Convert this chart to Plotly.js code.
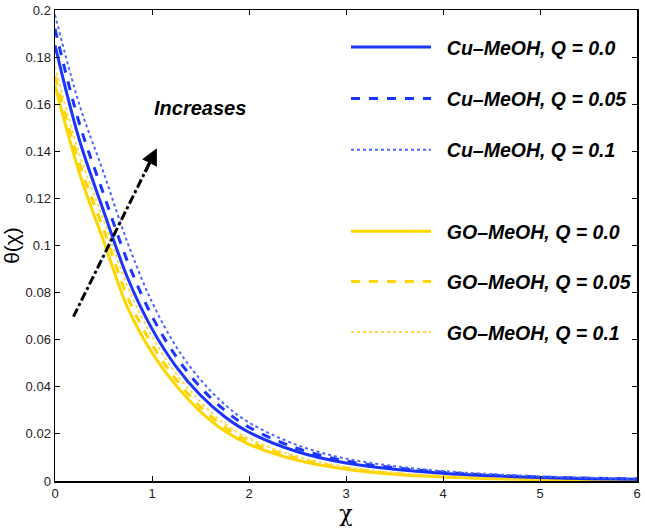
<!DOCTYPE html>
<html>
<head>
<meta charset="utf-8">
<script src="https://cdn.plot.ly/plotly-3.0.1.min.js"></script>
<style>html,body{margin:0;padding:0;background:#fff;}#chart{width:645px;height:528px;}</style>
</head>
<body>
<div id="chart"></div>
<script>
const chi = [0, 0.25, 0.5, 0.75, 1, 1.25, 1.5, 1.75, 2, 2.5, 3, 3.5, 4, 4.5, 5, 5.5, 6];
const cuQ0   = [0.185, 0.145, 0.1148, 0.0861, 0.0646, 0.0485, 0.0364, 0.0273, 0.0207, 0.0124, 0.0076, 0.0050, 0.0033, 0.0022, 0.0015, 0.0010, 0.0007];
const cuQ005 = [0.192, 0.152, 0.122, 0.093, 0.070, 0.0528, 0.0398, 0.030, 0.0228, 0.0138, 0.0085, 0.0056, 0.0037, 0.0025, 0.0017, 0.0012, 0.0009];
const cuQ01  = [0.198, 0.160, 0.131, 0.101, 0.076, 0.057, 0.0430, 0.0325, 0.0248, 0.0152, 0.0095, 0.0063, 0.0042, 0.0029, 0.0020, 0.0014, 0.0010];
const goQ0   = [0.168, 0.131, 0.102, 0.0735, 0.0545, 0.0405, 0.0295, 0.0212, 0.0156, 0.0088, 0.0050, 0.0029, 0.0017, 0.0010, 0.0006, 0.0004, 0.0003];
const goQ005 = [0.172, 0.135, 0.107, 0.078, 0.058, 0.043, 0.0315, 0.0228, 0.0168, 0.0096, 0.0055, 0.0032, 0.0019, 0.0011, 0.0007, 0.0005, 0.0003];
const goQ01  = [0.176, 0.139, 0.111, 0.0825, 0.0615, 0.0455, 0.0335, 0.0243, 0.0180, 0.0104, 0.0060, 0.0035, 0.0021, 0.0012, 0.0008, 0.0005, 0.0003];
const seriesNames = ["Cu\u2013MeOH, Q = 0.0", "Cu\u2013MeOH, Q = 0.05", "Cu\u2013MeOH, Q = 0.1",
                     "GO\u2013MeOH, Q = 0.0", "GO\u2013MeOH, Q = 0.05", "GO\u2013MeOH, Q = 0.1"];
const xTicks = [0, 1, 2, 3, 4, 5, 6];
const yTicks = [0, 0.02, 0.04, 0.06, 0.08, 0.1, 0.12, 0.14, 0.16, 0.18, 0.2];
const yTickText = ["0", "0.02", "0.04", "0.06", "0.08", "0.1", "0.12", "0.14", "0.16", "0.18", "0.2"];
const arrowX = [0.19, 1.05];
const arrowY = [0.0698, 0.1413];
const annoText = "Increases";
const annoPos = [1.0, 0.1584];

const BLUE = "#1a35ff", BLUE_L = "#4a66ff", GOLD = "#ffd500", GOLD_L = "#ffd84a";
const styles = [
  {color: BLUE, dash: "solid", width: 3, legend: "legend"},
  {color: BLUE, dash: "dash", width: 3, legend: "legend"},
  {color: BLUE_L, dash: "dot", width: 2, legend: "legend"},
  {color: GOLD, dash: "solid", width: 3, legend: "legend2"},
  {color: GOLD, dash: "dash", width: 3, legend: "legend2"},
  {color: GOLD_L, dash: "dot", width: 2, legend: "legend2"}
];
const ys = [cuQ0, cuQ005, cuQ01, goQ0, goQ005, goQ01];
const order = [3, 4, 5, 0, 1, 2];
const traces = order.map(i => ({
  x: chi, y: ys[i], type: "scatter", mode: "lines", name: "\u00a0\u00a0" + seriesNames[i],
  line: {color: styles[i].color, dash: styles[i].dash, width: styles[i].width, shape: "spline", smoothing: 1.0},
  legend: styles[i].legend, legendgroup: "g" + i, legendrank: i + 1
}));
traces.push({
  x: [arrowX[0], arrowX[0] + (arrowX[1] - arrowX[0]) * 0.95], y: [arrowY[0], arrowY[0] + (arrowY[1] - arrowY[0]) * 0.95],
  type: "scatter", mode: "lines", showlegend: false, hoverinfo: "skip",
  line: {color: "#000", dash: "dashdot", width: 3}
});

const legFont = {family: "Liberation Sans, Arial, sans-serif", size: 19.5, color: "#000", weight: "bold", style: "italic"};
const layout = {
  width: 645, height: 528,
  margin: {l: 55, r: 8, t: 10, b: 47},
  paper_bgcolor: "#fff", plot_bgcolor: "#fff",
  showlegend: true,
  legend: {x: 0.5, y: 0.962, xanchor: "left", yanchor: "top", bgcolor: "rgba(0,0,0,0)",
           font: legFont, itemwidth: 80, tracegroupgap: 23, traceorder: "grouped"},
  legend2: {x: 0.5, y: 0.571, xanchor: "left", yanchor: "top", bgcolor: "rgba(0,0,0,0)",
            font: legFont, itemwidth: 80, tracegroupgap: 22, traceorder: "grouped"},
  xaxis: {range: [0, 6], tickvals: xTicks, ticks: "inside", ticklen: 5, tickcolor: "#000",
          showline: true, linecolor: "#000", linewidth: 1.5, mirror: "ticks", showgrid: false, zeroline: false,
          tickfont: {family: "Liberation Sans, Arial, sans-serif", size: 13, color: "#222"},
          title: {text: "\u03c7", font: {family: "DejaVu Serif, serif", size: 22, color: "#000"}, standoff: 0}},
  yaxis: {range: [0, 0.2], tickvals: yTicks, ticktext: yTickText, ticks: "inside", ticklen: 5, tickcolor: "#000",
          showline: true, linecolor: "#000", linewidth: 1.5, mirror: "ticks", showgrid: false, zeroline: false,
          tickfont: {family: "Liberation Sans, Arial, sans-serif", size: 13, color: "#222"},
          title: {text: "\u03b8(\u03c7)", font: {family: "Liberation Sans, Arial, sans-serif", size: 21, color: "#000"}, standoff: 0}},
  annotations: [
    {x: arrowX[1], y: arrowY[1], ax: arrowX[0] + (arrowX[1] - arrowX[0]) * 0.85, ay: arrowY[0] + (arrowY[1] - arrowY[0]) * 0.85,
     axref: "x", ayref: "y", xref: "x", yref: "y", text: "", showarrow: true, arrowhead: 2, arrowsize: 1.1, arrowwidth: 3, arrowcolor: "#000"},
    {x: annoPos[0], y: annoPos[1], xref: "x", yref: "y", xanchor: "left", yanchor: "middle", showarrow: false,
     text: annoText, font: {family: "Liberation Sans, Arial, sans-serif", size: 20, color: "#000", weight: "bold", style: "italic"}}
  ]
};
Plotly.newPlot("chart", traces, layout, {displayModeBar: false, staticPlot: true});
</script>
</body>
</html>
